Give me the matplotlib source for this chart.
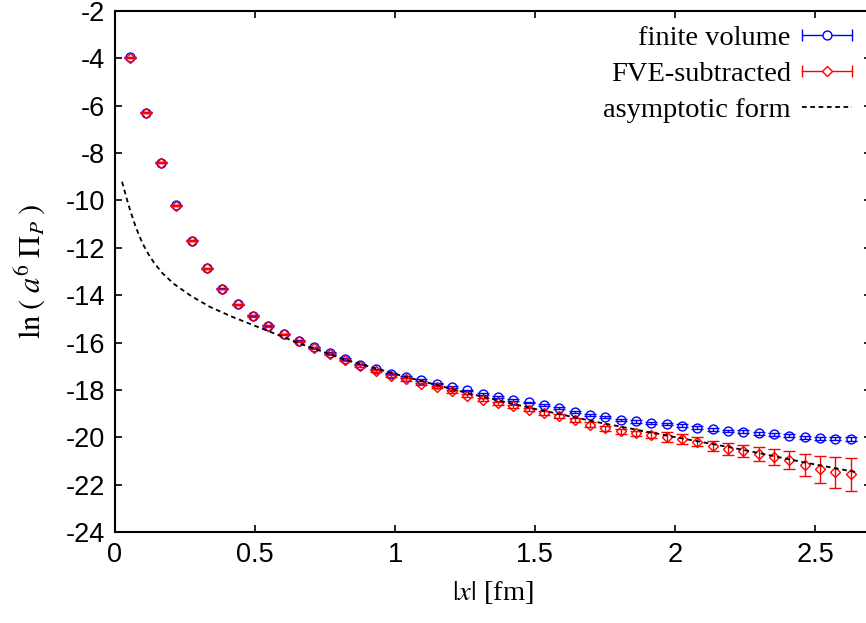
import matplotlib
matplotlib.use("Agg")
import matplotlib.pyplot as plt
from matplotlib.lines import Line2D
from matplotlib.legend_handler import HandlerBase

plt.rcParams['axes.unicode_minus'] = False
plt.rcParams['mathtext.fontset'] = 'stix'

# ---------------- data ----------------
x_fm = [0.0547, 0.1095, 0.1642, 0.2189, 0.2737, 0.3284, 0.3831, 0.4378, 0.4926, 0.5473,
        0.6020, 0.6568, 0.7115, 0.7662, 0.8210, 0.8757, 0.9304, 0.9851, 1.0399, 1.0946,
        1.1493, 1.2041, 1.2588, 1.3135, 1.3683, 1.4230, 1.4777, 1.5324, 1.5872, 1.6419,
        1.6966, 1.7514, 1.8061, 1.8608, 1.9156, 1.9703, 2.0250, 2.0797, 2.1345, 2.1892,
        2.2439, 2.2987, 2.3534, 2.4081, 2.4629, 2.5176, 2.5723, 2.6270]

finite_volume = [-3.96, -6.29, -8.40, -10.21, -11.70, -12.86, -13.73, -14.38, -14.87, -15.29,
                 -15.64, -15.93, -16.20, -16.45, -16.70, -16.93, -17.13, -17.31, -17.46, -17.59,
                 -17.73, -17.87, -18.02, -18.17, -18.31, -18.43, -18.53, -18.64, -18.78, -18.92,
                 -19.05, -19.16, -19.26, -19.33, -19.39, -19.45, -19.51, -19.59, -19.67, -19.73,
                 -19.77, -19.84, -19.88, -19.93, -20.00, -20.04, -20.06, -20.07]
finite_volume_err = [0.02, 0.02, 0.02, 0.02, 0.02, 0.02, 0.02, 0.02, 0.02, 0.02,
                     0.02, 0.02, 0.02, 0.03, 0.03, 0.03, 0.03, 0.03, 0.03, 0.03,
                     0.03, 0.03, 0.03, 0.03, 0.04, 0.04, 0.04, 0.04, 0.04, 0.04,
                     0.04, 0.04, 0.05, 0.05, 0.05, 0.05, 0.05, 0.05, 0.05, 0.05,
                     0.06, 0.06, 0.06, 0.06, 0.06, 0.06, 0.07, 0.07]

fve_subtracted = [-3.97, -6.30, -8.41, -10.22, -11.71, -12.87, -13.74, -14.39, -14.88, -15.31,
                  -15.66, -15.95, -16.22, -16.48, -16.73, -16.98, -17.20, -17.40, -17.56, -17.75,
                  -17.88, -18.05, -18.24, -18.41, -18.57, -18.70, -18.83, -18.97, -19.11, -19.28,
                  -19.47, -19.62, -19.75, -19.84, -19.90, -19.99, -20.07, -20.18, -20.35, -20.48,
                  -20.58, -20.69, -20.83, -20.97, -21.17, -21.36, -21.48, -21.56]
fve_subtracted_err = [0.02, 0.02, 0.02, 0.02, 0.02, 0.02, 0.02, 0.03, 0.03, 0.03,
                      0.03, 0.03, 0.04, 0.04, 0.04, 0.04, 0.05, 0.05, 0.05, 0.05,
                      0.06, 0.06, 0.06, 0.07, 0.07, 0.07, 0.08, 0.08, 0.09, 0.09,
                      0.10, 0.10, 0.11, 0.12, 0.12, 0.21, 0.20, 0.20, 0.21, 0.25,
                      0.27, 0.30, 0.34, 0.39, 0.48, 0.59, 0.66, 0.70]

asym_x = [0.025, 0.04, 0.055, 0.07, 0.085, 0.10, 0.12, 0.14, 0.17, 0.21, 0.27, 0.34,
          0.42, 0.54, 0.65, 0.82, 1.02, 1.26, 1.49, 1.73, 1.99, 2.23, 2.47, 2.65]
asym_y = [-9.21, -9.85, -10.45, -10.98, -11.45, -11.85, -12.28, -12.64, -13.08, -13.52,
          -14.02, -14.50, -14.92, -15.48, -16.00, -16.72, -17.39, -18.14, -18.78, -19.38,
          -19.97, -20.50, -21.08, -21.48]

x_ticks = [0, 0.5, 1, 1.5, 2, 2.5]
x_tick_labels = ['0', '0.5', '1', '1.5', '2', '2.5']
y_ticks = [-24, -22, -20, -18, -16, -14, -12, -10, -8, -6, -4, -2]

labels = ['finite volume', 'FVE-subtracted', 'asymptotic form']

# ---------------- figure ----------------
W, H = 866, 623
fig = plt.figure(figsize=(W / 100, H / 100), dpi=100)
L, R, T, B = 115, 871, 11, 532
ax = fig.add_axes([L / W, (H - B) / H, (R - L) / W, (B - T) / H])

blue = '#0000ff'
red = '#ff0000'

ax.errorbar(x_fm, finite_volume, yerr=finite_volume_err, fmt='o', ms=6.4, mfc='none',
            mec=blue, mew=1.0, ecolor=blue, elinewidth=1.0, capsize=4, capthick=1.0,
            zorder=3)
ax.errorbar(x_fm, fve_subtracted, yerr=fve_subtracted_err, fmt='D', ms=5.4, mfc='none',
            mec=red, mew=1.0, ecolor=red, elinewidth=1.0, capsize=4, capthick=1.0,
            zorder=4)
ax.plot(asym_x, asym_y, color='black', lw=1.3, dashes=(2.6, 2.0), zorder=5)

ax.set_xlim(0, 2.7)
ax.set_ylim(-24, -2)
ax.set_xticks(x_ticks)
ax.set_xticklabels(x_tick_labels)
ax.set_yticks(y_ticks)
ax.set_yticklabels([str(v) for v in y_ticks])

for s in ax.spines.values():
    s.set_linewidth(1.5)
ax.tick_params(direction='in', length=5, width=1.2, top=True, right=True,
               labelsize=19.5, pad=7)
for lab in ax.get_xticklabels() + ax.get_yticklabels():
    lab.set_family('Liberation Sans')

ax.set_xlabel(r'$|x|$ [fm]', family='Liberation Serif', fontsize=20.5, labelpad=8)
ax.set_ylabel(r'$\mathrm{ln}\;(\;a^{6}\;\Pi_{P}\;)$', family='Liberation Serif',
              fontsize=22, labelpad=13)


class HandlerHErr(HandlerBase):
    def __init__(self, marker, color, ms):
        super().__init__()
        self.marker = marker
        self.color = color
        self.ms = ms

    def create_artists(self, legend, orig_handle, xdescent, ydescent, width, height,
                       fontsize, trans):
        y = height / 2 - ydescent
        x0 = -xdescent
        x1 = -xdescent + width
        line = Line2D([x0, x1], [y, y], color=self.color, lw=1.0)
        caps = Line2D([x0, x1], [y, y], ls='none', marker='|', ms=8, mew=1.0,
                      color=self.color)
        mk = Line2D([(x0 + x1) / 2], [y], ls='none', marker=self.marker, ms=self.ms,
                    mfc='white', mec=self.color, mew=1.0)
        for a in (line, caps, mk):
            a.set_transform(trans)
        return [line, caps, mk]


h1 = Line2D([], [], color=blue)
h2 = Line2D([], [], color=red)
h3 = Line2D([], [], color='black', lw=1.3, dashes=(2.6, 2.0))
leg = ax.legend([h1, h2, h3], labels,
                handler_map={h1: HandlerHErr('o', blue, 6.4), h2: HandlerHErr('D', red, 5.4)},
                loc='upper right', bbox_to_anchor=(852 / W, 1 - 25 / H),
                bbox_transform=fig.transFigure, frameon=False, markerfirst=False,
                prop={'family': 'Liberation Serif', 'size': 20.5},
                handlelength=1.75, handletextpad=0.4, labelspacing=0.36,
                borderpad=0, borderaxespad=0)

fig.savefig('out.png', dpi=100)
